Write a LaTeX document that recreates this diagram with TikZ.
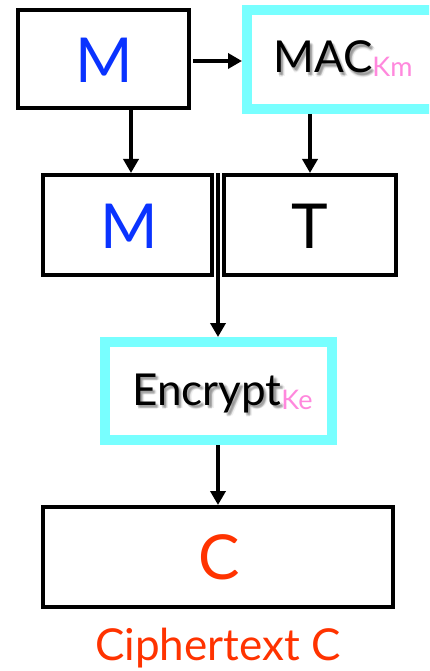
\documentclass[tikz,border=0pt]{standalone}
\usepackage{fontspec}
\setmainfont{Lato}
\usetikzlibrary{arrows.meta,calc}
\definecolor{boxcyan}{HTML}{78FFFF}
\definecolor{msgblue}{HTML}{0A33FF}
\definecolor{keypink}{HTML}{FF88DD}
\definecolor{ctred}{HTML}{FF3300}
\newcommand{\keysub}[1]{\raisebox{-4pt}{\fontsize{27}{27}\selectfont\color{keypink}#1}}
\tikzset{
  plainbox/.style={draw=black,line width=4pt,rectangle,inner sep=0pt},
  keybox/.style={draw=boxcyan,line width=10pt,rectangle,inner sep=0pt},
  bigtext/.style={font=\fontsize{62}{62}\selectfont,inner sep=0pt},
  midtext/.style={font=\fontsize{44}{44}\selectfont,inner sep=0pt,anchor=base west},
  arr/.style={line width=4pt,-{Triangle[width=15pt,length=14pt]}},
}
\begin{document}
\begin{tikzpicture}[x=1pt,y=-1pt]
\clip (0,0) rectangle (429,671);
\fill[white] (0,0) rectangle (429,671);

% boxes
\node[plainbox,minimum width=171pt,minimum height=98pt] (mtop) at (103.5,59) {};
\node[keybox,minimum width=193pt,minimum height=99pt] (mac) at (343.5,59.5) {};
\node[plainbox,minimum width=169pt,minimum height=100pt] (mmid) at (127.5,225) {};
\node[plainbox,minimum width=172pt,minimum height=100pt] (tbox) at (310,225) {};
\node[keybox,minimum width=227pt,minimum height=98pt] (enc) at (218.5,391) {};
\node[plainbox,minimum width=350pt,minimum height=100pt] (cbox) at (218,557) {};

% labels inside boxes
\node[bigtext,text=msgblue] (mtoplbl) at (104,60.5) {M};
\node[bigtext,text=msgblue] (mmidlbl) at (129.5,226.5) {M};
\node[bigtext,text=black] (tlbl) at (310,226.5) {T};
\node[bigtext,text=ctred] (clbl) at (219,557.5) {C};

% soft drop shadow behind the function names
\foreach \dx/\dy [count=\i] in {1.5/2.5,2.5/3.5,3.5/2.5,2.5/1.5,2/3,3/3,2.5/4.5,4.5/3.5} {
  \node[midtext,text=black,opacity=0.06] (macsh\i) at (273+\dx,73+\dy) {MAC};
  \node[midtext,text=black,opacity=0.06] (encsh\i) at (132+\dx,405+\dy) {Encrypt};
}
\node[midtext,text=black] (maclbl) at (273,73) {MAC\keysub{Km}};
\node[midtext,text=black] (enclbl) at (132,405) {Encrypt\keysub{Ke}};

% caption
\node[font=\fontsize{44}{44}\selectfont,text=ctred,inner sep=0pt,anchor=base] (caption) at (218,660) {Ciphertext C};

% connectors
\draw[arr] (mtop.east |- 0,61) ++(2,0) coordinate (mtopout) -- (mac.west |- mtopout);
\draw[arr] ([xshift=3.5pt]mmid.north |- mtop.south) -- ([xshift=3.5pt]mmid.north);
\draw[arr] (tbox.north |- mac.south) -- (tbox.north);
\coordinate (join) at ($(mmid.north east)!0.5!(tbox.north west)$);
\draw[arr] (join) -- (join |- enc.north);
\draw[arr] (join |- enc.south) -- (join |- cbox.north);
\end{tikzpicture}
\end{document}
